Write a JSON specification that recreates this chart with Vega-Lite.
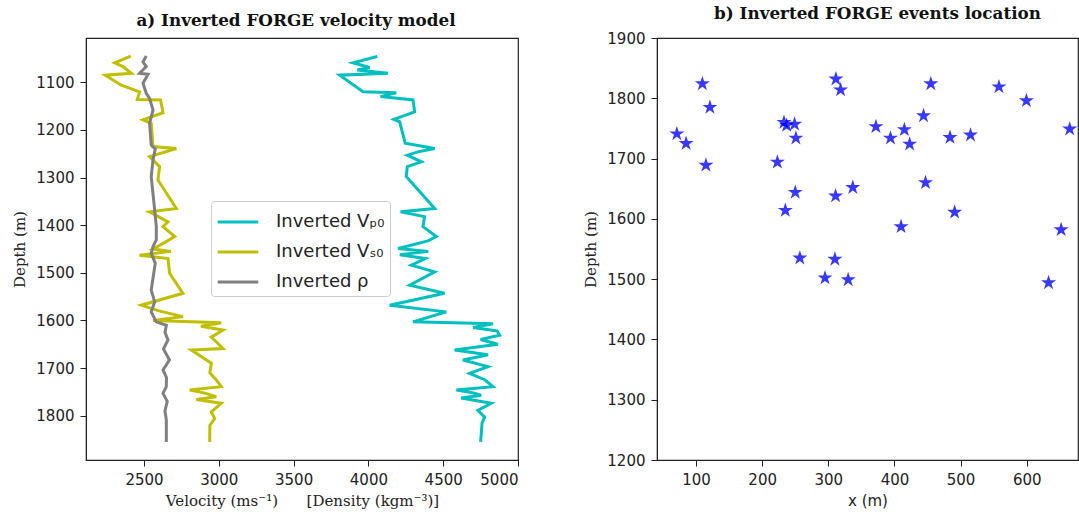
{
  "$schema": "https://vega.github.io/schema/vega-lite/v6.json",
  "background": "white",
  "padding": {"left": 12, "top": 5, "right": 0, "bottom": 0},
  "spacing": 63,
  "config": {
    "view": {"stroke": "#222", "strokeWidth": 1.2},
    "axis": {
      "grid": false,
      "labelFont": "DejaVu Sans",
      "labelFontSize": 15,
      "labelColor": "#222",
      "titleFont": "DejaVu Serif",
      "titleFontSize": 15,
      "titleFontWeight": "normal",
      "titleColor": "#222",
      "tickColor": "#222",
      "domainColor": "#222",
      "tickSize": 6,
      "labelPadding": 6,
      "format": "d"
    },
    "axisY": {"titlePadding": 8},
    "axisX": {"titlePadding": 6},
    "title": {"font": "DejaVu Serif", "fontWeight": "bold", "fontSize": 16.8, "color": "#111", "offset": 8}
  },
  "hconcat": [
    {
      "width": 432,
      "height": 422,
      "title": {"text": "a) Inverted FORGE velocity model", "dx": -6},
      "data": {"values": [
        {"series": "Inverted Vₚ₀", "depth": 1046, "velocity": 4059},
        {"series": "Inverted Vₚ₀", "depth": 1059, "velocity": 3897},
        {"series": "Inverted Vₚ₀", "depth": 1069, "velocity": 4008},
        {"series": "Inverted Vₚ₀", "depth": 1074, "velocity": 3926},
        {"series": "Inverted Vₚ₀", "depth": 1081, "velocity": 4131},
        {"series": "Inverted Vₚ₀", "depth": 1085, "velocity": 3808},
        {"series": "Inverted Vₚ₀", "depth": 1120, "velocity": 3964},
        {"series": "Inverted Vₚ₀", "depth": 1122, "velocity": 4186},
        {"series": "Inverted Vₚ₀", "depth": 1130, "velocity": 4081},
        {"series": "Inverted Vₚ₀", "depth": 1137, "velocity": 4298},
        {"series": "Inverted Vₚ₀", "depth": 1162, "velocity": 4309},
        {"series": "Inverted Vₚ₀", "depth": 1178, "velocity": 4171},
        {"series": "Inverted Vₚ₀", "depth": 1183, "velocity": 4209},
        {"series": "Inverted Vₚ₀", "depth": 1228, "velocity": 4246},
        {"series": "Inverted Vₚ₀", "depth": 1239, "velocity": 4443},
        {"series": "Inverted Vₚ₀", "depth": 1246, "velocity": 4331},
        {"series": "Inverted Vₚ₀", "depth": 1253, "velocity": 4260},
        {"series": "Inverted Vₚ₀", "depth": 1267, "velocity": 4354},
        {"series": "Inverted Vₚ₀", "depth": 1277, "velocity": 4260},
        {"series": "Inverted Vₚ₀", "depth": 1298, "velocity": 4253},
        {"series": "Inverted Vₚ₀", "depth": 1365, "velocity": 4443},
        {"series": "Inverted Vₚ₀", "depth": 1372, "velocity": 4215},
        {"series": "Inverted Vₚ₀", "depth": 1382, "velocity": 4375},
        {"series": "Inverted Vₚ₀", "depth": 1403, "velocity": 4365},
        {"series": "Inverted Vₚ₀", "depth": 1424, "velocity": 4454},
        {"series": "Inverted Vₚ₀", "depth": 1433, "velocity": 4398},
        {"series": "Inverted Vₚ₀", "depth": 1449, "velocity": 4198},
        {"series": "Inverted Vₚ₀", "depth": 1455, "velocity": 4400},
        {"series": "Inverted Vₚ₀", "depth": 1462, "velocity": 4210},
        {"series": "Inverted Vₚ₀", "depth": 1470, "velocity": 4380},
        {"series": "Inverted Vₚ₀", "depth": 1484, "velocity": 4287},
        {"series": "Inverted Vₚ₀", "depth": 1498, "velocity": 4443},
        {"series": "Inverted Vₚ₀", "depth": 1526, "velocity": 4276},
        {"series": "Inverted Vₚ₀", "depth": 1543, "velocity": 4509},
        {"series": "Inverted Vₚ₀", "depth": 1568, "velocity": 4142},
        {"series": "Inverted Vₚ₀", "depth": 1582, "velocity": 4520},
        {"series": "Inverted Vₚ₀", "depth": 1603, "velocity": 4298},
        {"series": "Inverted Vₚ₀", "depth": 1607, "velocity": 4833},
        {"series": "Inverted Vₚ₀", "depth": 1615, "velocity": 4700},
        {"series": "Inverted Vₚ₀", "depth": 1622, "velocity": 4860},
        {"series": "Inverted Vₚ₀", "depth": 1631, "velocity": 4877},
        {"series": "Inverted Vₚ₀", "depth": 1640, "velocity": 4750},
        {"series": "Inverted Vₚ₀", "depth": 1650, "velocity": 4866},
        {"series": "Inverted Vₚ₀", "depth": 1662, "velocity": 4576},
        {"series": "Inverted Vₚ₀", "depth": 1672, "velocity": 4800},
        {"series": "Inverted Vₚ₀", "depth": 1683, "velocity": 4632},
        {"series": "Inverted Vₚ₀", "depth": 1697, "velocity": 4799},
        {"series": "Inverted Vₚ₀", "depth": 1711, "velocity": 4676},
        {"series": "Inverted Vₚ₀", "depth": 1725, "velocity": 4780},
        {"series": "Inverted Vₚ₀", "depth": 1739, "velocity": 4833},
        {"series": "Inverted Vₚ₀", "depth": 1746, "velocity": 4588},
        {"series": "Inverted Vₚ₀", "depth": 1752, "velocity": 4700},
        {"series": "Inverted Vₚ₀", "depth": 1757, "velocity": 4754},
        {"series": "Inverted Vₚ₀", "depth": 1763, "velocity": 4620},
        {"series": "Inverted Vₚ₀", "depth": 1774, "velocity": 4821},
        {"series": "Inverted Vₚ₀", "depth": 1789, "velocity": 4732},
        {"series": "Inverted Vₚ₀", "depth": 1803, "velocity": 4777},
        {"series": "Inverted Vₚ₀", "depth": 1815, "velocity": 4760},
        {"series": "Inverted Vₚ₀", "depth": 1855, "velocity": 4750},
        {"series": "Inverted Vₛ₀", "depth": 1045, "velocity": 2411},
        {"series": "Inverted Vₛ₀", "depth": 1059, "velocity": 2304},
        {"series": "Inverted Vₛ₀", "depth": 1067, "velocity": 2359},
        {"series": "Inverted Vₛ₀", "depth": 1081, "velocity": 2415},
        {"series": "Inverted Vₛ₀", "depth": 1085, "velocity": 2241},
        {"series": "Inverted Vₛ₀", "depth": 1106, "velocity": 2348},
        {"series": "Inverted Vₛ₀", "depth": 1120, "velocity": 2470},
        {"series": "Inverted Vₛ₀", "depth": 1136, "velocity": 2455},
        {"series": "Inverted Vₛ₀", "depth": 1137, "velocity": 2611},
        {"series": "Inverted Vₛ₀", "depth": 1164, "velocity": 2627},
        {"series": "Inverted Vₛ₀", "depth": 1179, "velocity": 2493},
        {"series": "Inverted Vₛ₀", "depth": 1186, "velocity": 2548},
        {"series": "Inverted Vₛ₀", "depth": 1235, "velocity": 2560},
        {"series": "Inverted Vₛ₀", "depth": 1239, "velocity": 2716},
        {"series": "Inverted Vₛ₀", "depth": 1256, "velocity": 2537},
        {"series": "Inverted Vₛ₀", "depth": 1277, "velocity": 2604},
        {"series": "Inverted Vₛ₀", "depth": 1305, "velocity": 2593},
        {"series": "Inverted Vₛ₀", "depth": 1365, "velocity": 2716},
        {"series": "Inverted Vₛ₀", "depth": 1372, "velocity": 2537},
        {"series": "Inverted Vₛ₀", "depth": 1393, "velocity": 2660},
        {"series": "Inverted Vₛ₀", "depth": 1403, "velocity": 2627},
        {"series": "Inverted Vₛ₀", "depth": 1424, "velocity": 2705},
        {"series": "Inverted Vₛ₀", "depth": 1436, "velocity": 2640},
        {"series": "Inverted Vₛ₀", "depth": 1450, "velocity": 2560},
        {"series": "Inverted Vₛ₀", "depth": 1455, "velocity": 2680},
        {"series": "Inverted Vₛ₀", "depth": 1463, "velocity": 2470},
        {"series": "Inverted Vₛ₀", "depth": 1470, "velocity": 2660},
        {"series": "Inverted Vₛ₀", "depth": 1501, "velocity": 2671},
        {"series": "Inverted Vₛ₀", "depth": 1543, "velocity": 2760},
        {"series": "Inverted Vₛ₀", "depth": 1568, "velocity": 2482},
        {"series": "Inverted Vₛ₀", "depth": 1580, "velocity": 2600},
        {"series": "Inverted Vₛ₀", "depth": 1592, "velocity": 2760},
        {"series": "Inverted Vₛ₀", "depth": 1600, "velocity": 2560},
        {"series": "Inverted Vₛ₀", "depth": 1605, "velocity": 3016},
        {"series": "Inverted Vₛ₀", "depth": 1612, "velocity": 2880},
        {"series": "Inverted Vₛ₀", "depth": 1620, "velocity": 3028},
        {"series": "Inverted Vₛ₀", "depth": 1635, "velocity": 2950},
        {"series": "Inverted Vₛ₀", "depth": 1659, "velocity": 3028},
        {"series": "Inverted Vₛ₀", "depth": 1662, "velocity": 2816},
        {"series": "Inverted Vₛ₀", "depth": 1690, "velocity": 2950},
        {"series": "Inverted Vₛ₀", "depth": 1710, "velocity": 2940},
        {"series": "Inverted Vₛ₀", "depth": 1725, "velocity": 2983},
        {"series": "Inverted Vₛ₀", "depth": 1739, "velocity": 3016},
        {"series": "Inverted Vₛ₀", "depth": 1746, "velocity": 2805},
        {"series": "Inverted Vₛ₀", "depth": 1752, "velocity": 2900},
        {"series": "Inverted Vₛ₀", "depth": 1760, "velocity": 2983},
        {"series": "Inverted Vₛ₀", "depth": 1766, "velocity": 2850},
        {"series": "Inverted Vₛ₀", "depth": 1774, "velocity": 3016},
        {"series": "Inverted Vₛ₀", "depth": 1792, "velocity": 2950},
        {"series": "Inverted Vₛ₀", "depth": 1806, "velocity": 2972},
        {"series": "Inverted Vₛ₀", "depth": 1820, "velocity": 2940},
        {"series": "Inverted Vₛ₀", "depth": 1855, "velocity": 2939},
        {"series": "Inverted ρ", "depth": 1045, "velocity": 2515},
        {"series": "Inverted ρ", "depth": 1057, "velocity": 2493},
        {"series": "Inverted ρ", "depth": 1067, "velocity": 2515},
        {"series": "Inverted ρ", "depth": 1081, "velocity": 2470},
        {"series": "Inverted ρ", "depth": 1083, "velocity": 2527},
        {"series": "Inverted ρ", "depth": 1102, "velocity": 2493},
        {"series": "Inverted ρ", "depth": 1123, "velocity": 2515},
        {"series": "Inverted ρ", "depth": 1134, "velocity": 2537},
        {"series": "Inverted ρ", "depth": 1158, "velocity": 2560},
        {"series": "Inverted ρ", "depth": 1186, "velocity": 2537},
        {"series": "Inverted ρ", "depth": 1232, "velocity": 2548},
        {"series": "Inverted ρ", "depth": 1240, "velocity": 2575},
        {"series": "Inverted ρ", "depth": 1263, "velocity": 2560},
        {"series": "Inverted ρ", "depth": 1298, "velocity": 2548},
        {"series": "Inverted ρ", "depth": 1368, "velocity": 2571},
        {"series": "Inverted ρ", "depth": 1403, "velocity": 2582},
        {"series": "Inverted ρ", "depth": 1431, "velocity": 2582},
        {"series": "Inverted ρ", "depth": 1445, "velocity": 2560},
        {"series": "Inverted ρ", "depth": 1459, "velocity": 2548},
        {"series": "Inverted ρ", "depth": 1480, "velocity": 2575},
        {"series": "Inverted ρ", "depth": 1536, "velocity": 2548},
        {"series": "Inverted ρ", "depth": 1561, "velocity": 2571},
        {"series": "Inverted ρ", "depth": 1582, "velocity": 2548},
        {"series": "Inverted ρ", "depth": 1603, "velocity": 2582},
        {"series": "Inverted ρ", "depth": 1610, "velocity": 2649},
        {"series": "Inverted ρ", "depth": 1625, "velocity": 2640},
        {"series": "Inverted ρ", "depth": 1641, "velocity": 2660},
        {"series": "Inverted ρ", "depth": 1660, "velocity": 2630},
        {"series": "Inverted ρ", "depth": 1683, "velocity": 2670},
        {"series": "Inverted ρ", "depth": 1704, "velocity": 2627},
        {"series": "Inverted ρ", "depth": 1720, "velocity": 2650},
        {"series": "Inverted ρ", "depth": 1739, "velocity": 2649},
        {"series": "Inverted ρ", "depth": 1753, "velocity": 2627},
        {"series": "Inverted ρ", "depth": 1770, "velocity": 2655},
        {"series": "Inverted ρ", "depth": 1790, "velocity": 2640},
        {"series": "Inverted ρ", "depth": 1809, "velocity": 2649},
        {"series": "Inverted ρ", "depth": 1855, "velocity": 2649}
      ]},
      "mark": {"type": "line", "strokeWidth": 3, "clip": true},
      "encoding": {
        "x": {
          "field": "velocity", "type": "quantitative",
          "scale": {"domain": [2112, 5000], "nice": false, "zero": false},
          "axis": {"values": [2500, 3000, 3500, 4000, 4500, 5000], "title": "Velocity (ms⁻¹)\u00a0\u00a0\u00a0\u00a0\u00a0\u00a0[Density (kgm⁻³)]"}
        },
        "y": {
          "field": "depth", "type": "quantitative",
          "scale": {"domain": [1007, 1893], "reverse": true, "nice": false, "zero": false},
          "axis": {"values": [1100, 1200, 1300, 1400, 1500, 1600, 1700, 1800], "title": "Depth (m)"}
        },
        "color": {
          "field": "series", "type": "nominal",
          "scale": {"domain": ["Inverted Vₚ₀", "Inverted Vₛ₀", "Inverted ρ"], "range": ["#00bfbf", "#bfbf00", "#808080"]},
          "legend": {
            "title": null, "orient": "none", "legendX": 125, "legendY": 163,
            "symbolType": "M-1.4,0H1.4", "symbolStrokeWidth": 3, "symbolSize": 841, "symbolOffset": 6,
            "labelFont": "DejaVu Sans", "labelFontSize": 18, "labelColor": "#222", "labelLimit": 300,
            "fillColor": "rgba(255,255,255,0.85)", "strokeColor": "#ccc", "padding": 5,
            "cornerRadius": 3, "rowPadding": 5, "labelOffset": 22
          }
        },
        "order": {"field": "depth", "type": "quantitative"}
      }
    },
    {
      "width": 421,
      "height": 422,
      "title": {"text": "b) Inverted FORGE events location", "dx": 10},
      "data": {"values": [
        {"x": 109.6, "depth": 1824}, {"x": 121, "depth": 1785}, {"x": 71, "depth": 1741},
        {"x": 85, "depth": 1725}, {"x": 115, "depth": 1689}, {"x": 223, "depth": 1694},
        {"x": 233, "depth": 1760}, {"x": 237, "depth": 1755}, {"x": 249, "depth": 1757},
        {"x": 251, "depth": 1734}, {"x": 250, "depth": 1644}, {"x": 235, "depth": 1614},
        {"x": 257, "depth": 1535}, {"x": 295, "depth": 1502}, {"x": 310, "depth": 1533},
        {"x": 330, "depth": 1499}, {"x": 311, "depth": 1638}, {"x": 337, "depth": 1652},
        {"x": 311.5, "depth": 1832}, {"x": 318.6, "depth": 1814}, {"x": 455, "depth": 1824},
        {"x": 558, "depth": 1819}, {"x": 599.5, "depth": 1796}, {"x": 444, "depth": 1771},
        {"x": 372, "depth": 1753}, {"x": 415, "depth": 1748}, {"x": 394, "depth": 1734},
        {"x": 423, "depth": 1724}, {"x": 484, "depth": 1735}, {"x": 515, "depth": 1739},
        {"x": 665, "depth": 1749}, {"x": 447, "depth": 1660}, {"x": 491, "depth": 1611},
        {"x": 410, "depth": 1587}, {"x": 652, "depth": 1582}, {"x": 633, "depth": 1494}
      ]},
      "mark": {
        "type": "point", "filled": true, "size": 250, "color": "#0000ff", "opacity": 0.78,
        "shape": "M0,-1L0.2245,-0.309L0.951,-0.309L0.363,0.118L0.588,0.809L0,0.382L-0.588,0.809L-0.363,0.118L-0.951,-0.309L-0.2245,-0.309Z"
      },
      "encoding": {
        "x": {
          "field": "x", "type": "quantitative",
          "scale": {"domain": [41, 677.5], "nice": false, "zero": false},
          "axis": {"values": [100, 200, 300, 400, 500, 600], "title": "x (m)", "titleFont": "DejaVu Sans"}
        },
        "y": {
          "field": "depth", "type": "quantitative",
          "scale": {"domain": [1200, 1900], "nice": false, "zero": false},
          "axis": {"values": [1200, 1300, 1400, 1500, 1600, 1700, 1800, 1900], "title": "Depth (m)"}
        }
      }
    }
  ]
}
